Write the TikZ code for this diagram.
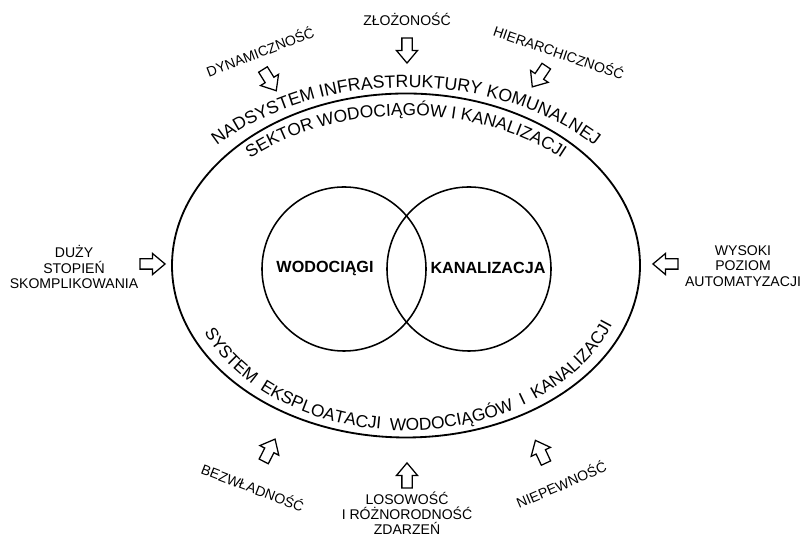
\documentclass[tikz,border=0pt]{standalone}
\usepackage{fontspec}
\setmainfont{Liberation Sans}
\usetikzlibrary{shapes.arrows, decorations.text}

\newcommand{\napisluk}{\fontsize{12.6}{15}\selectfont}
\newcommand{\napisdol}{\fontsize{12.3}{14}\selectfont}

\tikzset{
  strzalka/.style={single arrow, draw, fill=white, line width=0.9pt,
    minimum height=0.625cm, inner sep=3.2pt,
    single arrow head extend=3.9pt, single arrow tip angle=80},
  etykieta/.style={font=\fontsize{10}{10.8}\selectfont, align=center, inner sep=0pt},
  kolo/.style={circle, draw, line width=1.1pt, minimum size=4.1cm, inner sep=0pt},
  obwod/.style={line width=1.3pt}
}

\begin{document}
\begin{tikzpicture}[x=0.025cm, y=0.025cm]

    \useasboundingbox (0,0) rectangle (803,536);

    % --- Parametry elipsy nadsystemu ---
    \def\rx{234} % Półoś pozioma
    \def\ry{172} % Półoś pionowa
    \coordinate (srodek) at (406,270.5);

    % 1. Elipsa nadsystemu
    \draw[obwod] (srodek) ellipse [x radius=\rx, y radius=\ry];

    % 2. Napisy wzdłuż elipsy
    \path[decorate, decoration={text along path, text align=center,
        text={|\napisluk|NADSYSTEM INFRASTRUKTURY KOMUNALNEJ}}]
        (srodek) ++(139:255 and 178) arc[start angle=139, end angle=41, x radius=255, y radius=178];
    \path[decorate, decoration={text along path, text align=center,
        text={|\napisdol|SEKTOR WODOCIĄGÓW I KANALIZACJI}}]
        (srodek) ++(137:222 and 150) arc[start angle=137, end angle=43, x radius=222, y radius=150];
    \path[decorate, decoration={text along path, text align={fit to path stretching spaces},
        text={|\napisdol|SYSTEM EKSPLOATACJI WODOCIĄGÓW I KANALIZACJI}}]
        (srodek) ++(204:221 and 165) arc[start angle=204, end angle=339, x radius=221, y radius=165];

    % --- Dwa zachodzące koła ---
    \node[kolo] (kWod) at (344,267) {};
    \node[kolo] (kKan) at (469,267) {};
    \node[font=\fontsize{11.5}{13}\selectfont\bfseries, inner sep=0pt] (tWod) at (325,268) {WODOCIĄGI};
    \node[font=\fontsize{11.5}{13}\selectfont\bfseries, inner sep=0pt] (tKan) at (488,268) {KANALIZACJA};

    % --- Strzałki oddziaływań (nazwa, x, y, kąt) ---
    \foreach \n/\px/\py/\kat in {
        dyn/268/458.5/-58,
        zlo/407/488.5/-90,
        hie/541/462/-124,
        duz/149.5/272/0,
        wys/668.5/272/180,
        bez/268/83/63,
        los/407/57.5/90,
        nie/542/81.5/115}{
        \node[strzalka, rotate=\kat] (s\n) at (\px,\py) {};
    }

    % --- Etykiety czynników ---
    \node[etykieta] (zlo) at (407,517) {ZŁOŻONOŚĆ};
    \node[etykieta, rotate=21] (dyn) at (260,485) {DYNAMICZNOŚĆ};
    \node[etykieta, rotate=-19] (hie) at (559,484) {HIERARCHICZNOŚĆ};
    \node[etykieta] (duz) at (74,269) {DUŻY\\STOPIEŃ\\SKOMPLIKOWANIA};
    \node[etykieta] (wys) at (743,270) {WYSOKI\\POZIOM\\AUTOMATYZACJI};
    \node[etykieta, rotate=-21] (bez) at (253,49) {BEZWŁADNOŚĆ};
    \node[etykieta] (los) at (407,23) {LOSOWOŚĆ\\I RÓŻNORODNOŚĆ\\ZDARZEŃ};
    \node[etykieta, rotate=23] (nie) at (561,52) {NIEPEWNOŚĆ};

\end{tikzpicture}
\end{document}
